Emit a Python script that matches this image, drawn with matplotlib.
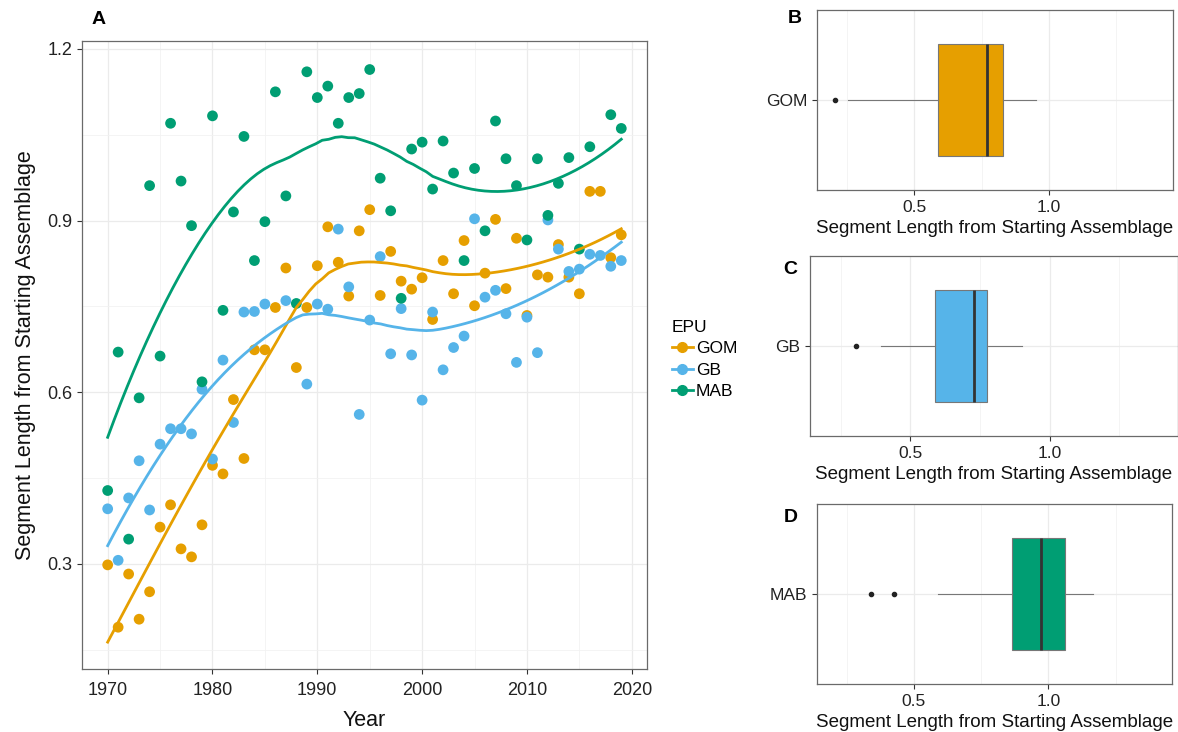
import numpy as np
import matplotlib.pyplot as plt
from matplotlib.lines import Line2D
from matplotlib.ticker import MultipleLocator

plt.rcParams['font.family'] = ['Liberation Sans', 'DejaVu Sans']

years = np.arange(1970, 2020)

gom = [0.298, 0.189, 0.282, 0.203, 0.251, 0.364, 0.403, 0.326, 0.312, 0.368,
       0.472, 0.457, 0.587, 0.484, 0.674, 0.674, 0.748, 0.817, 0.643, 0.748,
       0.821, 0.889, 0.827, 0.768, 0.882, 0.919, 0.769, 0.846, 0.794, 0.780,
       0.800, 0.727, 0.830, 0.772, 0.865, 0.751, 0.808, 0.902, 0.781, 0.869,
       0.734, 0.805, 0.801, 0.858, 0.801, 0.772, 0.951, 0.951, 0.835, 0.875]

gb = [0.396, 0.306, 0.415, 0.480, 0.394, 0.509, 0.536, 0.536, 0.527, 0.605,
      0.483, 0.656, 0.547, 0.740, 0.741, 0.754, np.nan, 0.760, np.nan, 0.614,
      0.754, 0.745, 0.885, 0.784, 0.561, 0.726, 0.837, 0.667, 0.746, 0.665,
      0.586, 0.740, 0.639, 0.678, 0.698, 0.903, 0.766, 0.778, 0.737, 0.652,
      0.731, 0.669, 0.901, 0.850, 0.811, 0.815, 0.841, 0.839, 0.820, 0.830]

mab = [0.428, 0.670, 0.343, 0.590, 0.961, 0.663, 1.070, 0.969, 0.891, 0.618,
       1.083, 0.743, 0.915, 1.047, 0.830, 0.898, 1.125, 0.943, 0.755, 1.160,
       1.115, 1.135, 1.070, 1.115, 1.122, 1.164, 0.974, 0.917, 0.764, 1.025,
       1.037, 0.955, 1.039, 0.983, 0.830, 0.991, 0.882, 1.074, 1.008, 0.961,
       0.866, 1.008, 0.909, 0.965, 1.010, 0.850, 1.029, np.nan, 1.085, 1.061]

epus = ["GOM", "GB", "MAB"]
colors = {"GOM": "#E69F00", "GB": "#56B4E9", "MAB": "#009E73"}
series = {"GOM": gom, "GB": gb, "MAB": mab}

box_q1 = {"GOM": 0.589, "GB": 0.588, "MAB": 0.866}
box_med = {"GOM": 0.770, "GB": 0.730, "MAB": 0.971}
box_q3 = {"GOM": 0.829, "GB": 0.774, "MAB": 1.061}
box_lo = {"GOM": 0.253, "GB": 0.393, "MAB": 0.591}
box_hi = {"GOM": 0.951, "GB": 0.900, "MAB": 1.165}
box_out = {"GOM": [0.205], "GB": [0.304], "MAB": [0.341, 0.425]}


# loess smoother (degree 2, span 0.75, tricube weights) like geom_smooth
def loess(x, y, xs, span=0.75):
    n = len(x)
    q = int(np.floor(n * span))
    fit = []
    for x0 in xs:
        d = np.abs(x - x0)
        h = np.sort(d)[q - 1]
        w = np.clip(1 - (d / h) ** 3, 0, None) ** 3
        X = np.column_stack([np.ones(n), x - x0, (x - x0) ** 2])
        sw = np.sqrt(w)
        beta = np.linalg.lstsq(X * sw[:, None], y * sw, rcond=None)[0]
        fit.append(beta[0])
    return np.array(fit)


def style_axes(ax):
    for s in ax.spines.values():
        s.set_color("#6a6a6a")
        s.set_linewidth(0.9)
    ax.tick_params(which="major", color="#333333", length=3.5, width=0.8,
                   labelcolor="#222222", labelsize=12.5)
    ax.tick_params(which="minor", length=0)
    ax.grid(which="major", color="#EBEBEB", lw=0.9)
    ax.grid(which="minor", color="#F2F2F2", lw=0.6)
    ax.set_axisbelow(True)


fig = plt.figure(figsize=(11.78, 7.32), dpi=100)

# Panel A
axA = fig.add_axes([0.0696, 0.0861, 0.4796, 0.858])
xs = np.linspace(1970, 2019, 80)
for epu in epus:
    y = np.array(series[epu], dtype=float)
    ok = ~np.isnan(y)
    axA.scatter(years[ok], y[ok], s=60, color=colors[epu], edgecolors="none", zorder=3)
for epu in epus:
    y = np.array(series[epu], dtype=float)
    ok = ~np.isnan(y)
    axA.plot(xs, loess(years[ok].astype(float), y[ok], xs), color=colors[epu], lw=2.0, zorder=4)

axA.set_xlim(1967.55, 2021.45)
axA.set_ylim(0.116, 1.214)
axA.set_xticks([1970, 1980, 1990, 2000, 2010, 2020])
axA.set_yticks([0.3, 0.6, 0.9, 1.2])
axA.xaxis.set_minor_locator(MultipleLocator(5))
axA.yaxis.set_minor_locator(MultipleLocator(0.15))
style_axes(axA)
axA.tick_params(labelsize=13)
axA.tick_params(axis="x", pad=6)
axA.set_xlabel("Year", fontsize=15.5, color="#111111", labelpad=8)
axA.set_ylabel("Segment Length from Starting Assemblage", fontsize=15.5, color="#111111",
               labelpad=8)
fig.text(0.084, 0.974, "A", fontsize=14, fontweight="bold", ha="center", va="center")

# legend
handles = [Line2D([0], [0], color=colors[e], lw=2.0, marker="o", markersize=7) for e in epus]
leg = fig.legend(handles, epus, title="EPU", loc="upper left", bbox_to_anchor=(0.557, 0.584),
                 frameon=False, fontsize=12.5, title_fontsize=12.5, handlelength=1.2,
                 handletextpad=0.2, labelspacing=0.35)
leg._legend_box.align = "left"

# Panels B, C, D
box_pos = {"GOM": [0.6936, 0.7404, 0.3022, 0.2459],
           "GB": [0.6876, 0.4044, 0.3124, 0.2459],
           "MAB": [0.6936, 0.0656, 0.3014, 0.2459]}
letters = {"GOM": ("B", 0.675, 0.975), "GB": ("C", 0.671, 0.6325), "MAB": ("D", 0.671, 0.293)}

for epu in epus:
    ax = fig.add_axes(box_pos[epu])
    stats = [dict(q1=box_q1[epu], med=box_med[epu], q3=box_q3[epu],
                  whislo=box_lo[epu], whishi=box_hi[epu], fliers=box_out[epu])]
    ax.bxp(stats, positions=[1], orientation="horizontal", widths=0.75, patch_artist=True,
           showcaps=False,
           boxprops=dict(facecolor=colors[epu], edgecolor="#777777", lw=0.8),
           medianprops=dict(color="#333333", lw=2.0),
           whiskerprops=dict(color="#777777", lw=0.8),
           flierprops=dict(marker="o", markersize=3, markerfacecolor="#222222",
                           markeredgecolor="#222222"))
    ax.set_xlim(0.14, 1.46)
    ax.set_ylim(0.4, 1.6)
    ax.set_xticks([0.5, 1.0])
    ax.set_xticklabels(["0.5", "1.0"])
    ax.xaxis.set_minor_locator(MultipleLocator(0.25))
    ax.set_yticks([1])
    ax.set_yticklabels([epu])
    style_axes(ax)
    ax.grid(which="minor", axis="y", visible=False)
    ax.set_xlabel("Segment Length from Starting Assemblage", fontsize=13.5, color="#111111",
                  labelpad=4)
    t, lx, ly = letters[epu]
    fig.text(lx, ly, t, fontsize=14, fontweight="bold", ha="center", va="center")

fig.savefig("out.png", dpi=100)
